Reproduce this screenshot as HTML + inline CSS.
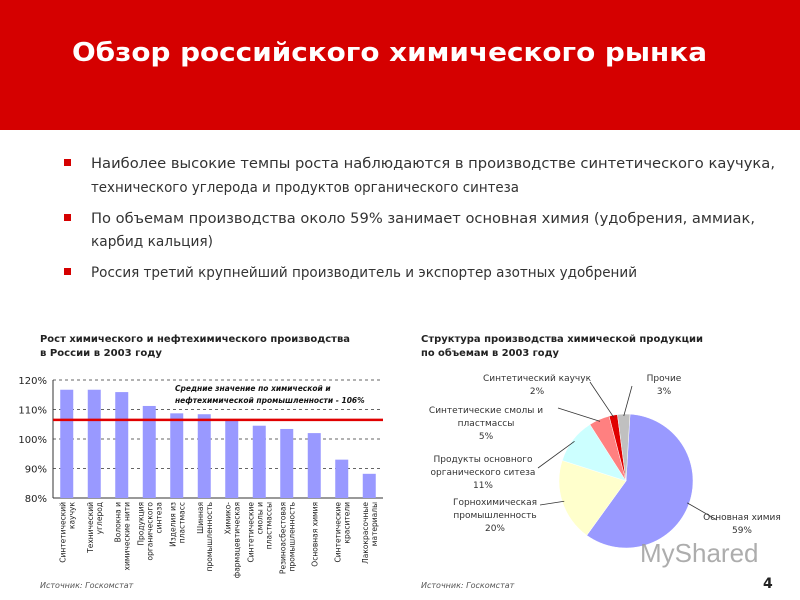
<!DOCTYPE html>
<html><head><meta charset="utf-8"><style>
html,body{margin:0;padding:0;background:#fff}
svg{display:block;font-family:"DejaVu Sans","Liberation Sans",sans-serif}
</style></head><body>
<svg id="s" width="800" height="600" viewBox="0 0 800 600">
<rect x="0" y="0" width="800" height="130" fill="#d50000"/>
<text x="72" y="61" font-size="26" font-weight="bold" fill="#fff" textLength="635" lengthAdjust="spacingAndGlyphs">Обзор российского химического рынка</text>
<g font-size="14" fill="#333">
<rect x="64" y="159" width="7" height="7" fill="#d50000"/>
<text x="91" y="168" textLength="684" lengthAdjust="spacingAndGlyphs">Наиболее высокие темпы роста наблюдаются в производстве синтетического каучука,</text>
<text x="91" y="192" textLength="428" lengthAdjust="spacingAndGlyphs">технического углерода и продуктов органического синтеза</text>
<rect x="64" y="214" width="7" height="7" fill="#d50000"/>
<text x="91" y="223" textLength="664" lengthAdjust="spacingAndGlyphs">По объемам производства около 59% занимает основная химия (удобрения, аммиак,</text>
<text x="91" y="246" textLength="122" lengthAdjust="spacingAndGlyphs">карбид кальция)</text>
<rect x="64" y="268" width="7" height="7" fill="#d50000"/>
<text x="91" y="277" textLength="546" lengthAdjust="spacingAndGlyphs">Россия третий крупнейший производитель и экспортер азотных удобрений</text>
</g>
<g font-size="10" font-weight="bold" fill="#222">
<text x="40" y="342" textLength="310" lengthAdjust="spacingAndGlyphs">Рост химического и нефтехимического производства</text>
<text x="40" y="356" textLength="122" lengthAdjust="spacingAndGlyphs">в России в 2003 году</text>
<text x="421" y="342" textLength="282" lengthAdjust="spacingAndGlyphs">Структура производства химической продукции</text>
<text x="421" y="356" textLength="138" lengthAdjust="spacingAndGlyphs">по объемам в 2003 году</text>
</g>
<g id="bars"></g>
<g id="pie"></g>
<text x="40" y="588" font-size="8" font-style="italic" fill="#555">Источник: Госкомстат</text>
<text x="421" y="588" font-size="8" font-style="italic" fill="#555">Источник: Госкомстат</text>
<text x="763" y="588" font-size="14" font-weight="bold" fill="#222">4</text>
<text x="640" y="562" font-size="26" fill="#999" opacity="0.8" font-family="Liberation Sans,sans-serif">MyShared</text>
</svg>
<script>
const categories=[["Синтетический","каучук"],["Технический","углерод"],["Волокна и","химические нити"],["Продукция","органического","синтеза"],["Изделия из","пластмасс"],["Шинная","промышленность"],["Химико-","фармацевтическая"],["Синтетические","смолы и","пластмассы"],["Резиноасбестовая","промышленность"],["Основная химия"],["Синтетические","красители"],["Лакокрасочные","материалы"]];
const growthValues=[116.7,116.7,115.9,111.2,108.7,108.4,106.5,104.5,103.4,102.0,93.0,88.2];
const averageValue=106.5;
const yTicks=[80,90,100,110,120];
const pieLabels=[["Основная химия","59%"],["Горнохимическая","промышленность","20%"],["Продукты основного","органического ситеза","11%"],["Синтетические смолы и","пластмассы","5%"],["Синтетический каучук","2%"],["Прочие","3%"]];
const pieValues=[59,20,11,5,2,3];
const pieColors=["#9999ff","#ffffcc","#ccffff","#ff8080","#e00000","#c0c0c0"];

const NS="http://www.w3.org/2000/svg";
function mk(tag,attrs,parent){const e=document.createElementNS(NS,tag);for(const k in attrs)e.setAttribute(k,attrs[k]);parent.appendChild(e);return e;}
const bars=document.getElementById('bars');
const x0=53,x1=383,yTop=380,yBot=498;
const y=v=>yBot-(v-80)/(120-80)*(yBot-yTop);
const bw=(x1-x0)/categories.length;
yTicks.forEach(t=>{
  if(t>80){const g=mk('line',{x1:x0,x2:x1,y1:y(t),y2:y(t),stroke:'#333','stroke-dasharray':'3,3','stroke-width':0.8},bars);
  
  }
  const l=mk('text',{x:x0-6,y:y(t)+4,'font-size':10,'text-anchor':'end',fill:'#222'},bars);l.textContent=t+'%';
  
  
});
const ax=mk('line',{x1:x0,x2:x0,y1:yTop,y2:yBot,stroke:'#333'},bars);


const bx=mk('line',{x1:x0,x2:x1,y1:yBot,y2:yBot,stroke:'#333'},bars);


growthValues.forEach((v,i)=>{
  const cx=x0+bw*(i+0.5);
  const r=mk('rect',{x:cx-6.5,y:y(v),width:13,height:yBot-y(v),fill:'#9999ff'},bars);
  
  
  const lines=categories[i];
  lines.forEach((ln,j)=>{
    const tx=cx-( (lines.length-1)*4.5 )+j*9+3;
    const t=mk('text',{x:0,y:0,'font-size':7.5,fill:'#222','text-anchor':'end',transform:`translate(${tx},${yBot+4}) rotate(-90)`},bars);
    t.textContent=ln;
    
    
  });
});
const avg=mk('line',{x1:x0,x2:x1,y1:y(averageValue),y2:y(averageValue),stroke:'#e00000','stroke-width':2.5},bars);


[["Средние значение по химической и",391],["нефтехимической промышленности - 106%",403]].forEach(([s,yy])=>{
  const t=mk('text',{x:175,y:yy,'font-size':7.5,'font-weight':'bold','font-style':'italic',fill:'#111'},bars);t.textContent=s;
  
  
});

const pie=document.getElementById('pie');
const pcx=626,pcy=481,pr=67;
const total=pieValues.reduce((a,b)=>a+b,0);
let ang=-Math.PI/2+0.06;
const labelPos=[[742,520,'middle'],[495,505,'middle'],[483,462,'middle'],[486,413,'middle'],[537,381,'middle'],[664,381,'middle']];
const leaderEnds=[[717,520],[540,505],[538,468],[558,408],[590,382],[632,386]];
pieValues.forEach((v,i)=>{
  const a2=ang+v/total*2*Math.PI;
  const p1=[pcx+pr*Math.cos(ang),pcy+pr*Math.sin(ang)],p2=[pcx+pr*Math.cos(a2),pcy+pr*Math.sin(a2)];
  const large=(a2-ang)>Math.PI?1:0;
  const p=mk('path',{d:`M${pcx},${pcy}L${p1[0]},${p1[1]}A${pr},${pr} 0 ${large} 1 ${p2[0]},${p2[1]}Z`,fill:pieColors[i],stroke:'#fff','stroke-width':0.5},pie);
  
  
  const mid=(ang+a2)/2;
  const [lx,ly,anc]=labelPos[i];
  const [ex,ey]=leaderEnds[i];
  const ln=mk('line',{x1:pcx+(pr-2)*Math.cos(mid),y1:pcy+(pr-2)*Math.sin(mid),x2:ex,y2:ey,stroke:'#333','stroke-width':0.8},pie);
  
  
  pieLabels[i].forEach((s,j)=>{
    const t=mk('text',{x:lx,y:ly+j*13,'font-size':9,fill:'#333','text-anchor':anc},pie);t.textContent=s;
    
    
  });
  ang=a2;
});
</script>
</body></html>
